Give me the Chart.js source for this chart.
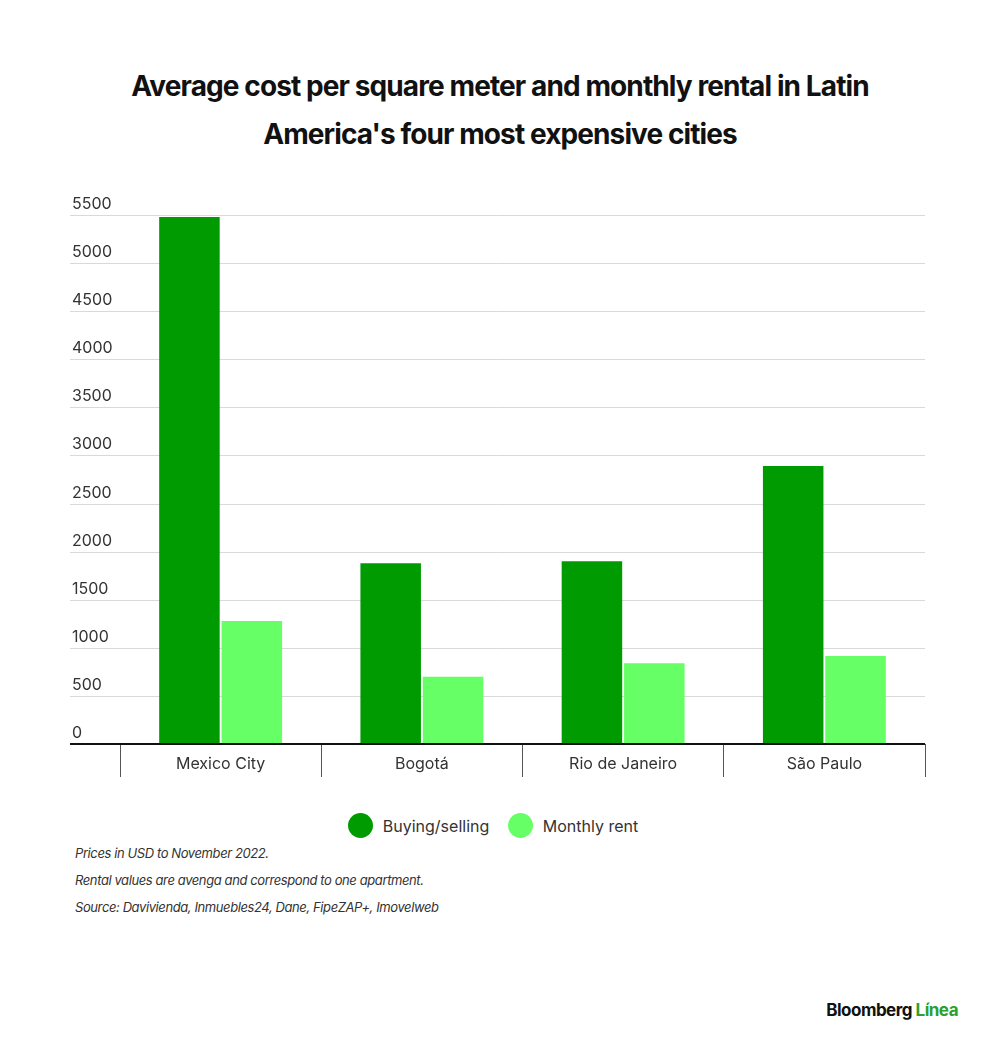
<!DOCTYPE html>
<html>
<head>
<meta charset="utf-8">
<script src="https://cdn.jsdelivr.net/npm/chart.js@4"></script>
<style>
  body { margin: 0; background: #fff; font-family: Inter, "Noto Sans", sans-serif; }
  #page { position: relative; width: 1000px; height: 1054px; }
  h1 { position: absolute; top: 62px; left: 0; width: 1000px; margin: 0; text-align: center;
       font-size: 28px; line-height: 48px; font-weight: 700; letter-spacing: -0.9px; color: #111; }
  #wrap { position: absolute; left: 0; top: 190px; width: 1000px; height: 600px; }
  #legend { position: absolute; top: 813px; left: 0; width: 1000px; text-align: center; font-size: 16px; color: #333; }
  #legend span.dot { display: inline-block; width: 25px; height: 25px; border-radius: 50%; vertical-align: middle; margin: 0 10px 0 0; }
  #legend span.lab { vertical-align: middle; margin-right: 14px; }
  .note { position: absolute; left: 75px; font-size: 13px; font-style: italic; color: #333; letter-spacing: -0.4px; }
  #logo { position: absolute; right: 42px; top: 1000px; font-size: 17px; font-weight: 700; color: #111; letter-spacing: -0.5px; }
  #logo em { font-style: normal; color: #2ca02c; }
</style>
</head>
<body>
<div id="page">
  <h1>Average cost per square meter and monthly rental in Latin<br>America's four most expensive cities</h1>
  <div id="wrap"><canvas id="chart"></canvas></div>
  <div id="legend">
    <span class="dot" style="background:#009b00"></span><span class="lab">Buying/selling</span>
    <span class="dot" style="background:#66ff66"></span><span class="lab">Monthly rent</span>
  </div>
  <div class="note" style="top:845px">Prices in USD to November 2022.</div>
  <div class="note" style="top:872px">Rental values are avenga and correspond to one apartment.</div>
  <div class="note" style="top:899px">Source: Davivienda, Inmuebles24, Dane, FipeZAP+, Imovelweb</div>
  <div id="logo">Bloomberg <em>Línea</em></div>
</div>
<script>
const cities = ['Mexico City', 'Bogotá', 'Rio de Janeiro', 'São Paulo'];
const buyingSelling = [5480, 1880, 1900, 2890];
const monthlyRent = [1280, 700, 840, 915];
const yTicks = [0, 500, 1000, 1500, 2000, 2500, 3000, 3500, 4000, 4500, 5000, 5500];

const leftEdge = 70;

// y labels sit just above each gridline, and gridlines + baseline run to the far left
const decor = {
    id: 'decor',
    beforeDatasetsDraw(chart) {
        const { ctx, chartArea, scales } = chart;
        ctx.save();
        ctx.strokeStyle = '#d9d9d9';
        ctx.lineWidth = 1;
        ctx.fillStyle = '#333';
        ctx.font = '16px Inter, "Noto Sans", sans-serif';
        ctx.textBaseline = 'bottom';
        yTicks.forEach(v => {
            const y = Math.round(scales.y.getPixelForValue(v)) + 0.5;
            if (v > 0) {
                ctx.beginPath();
                ctx.moveTo(leftEdge, y);
                ctx.lineTo(chartArea.right, y);
                ctx.stroke();
            }
            ctx.fillText(String(v), leftEdge + 2, y - 3);
        });
        ctx.restore();
    },
    afterDatasetsDraw(chart) {
        const { ctx, chartArea, scales } = chart;
        const y = scales.y.getPixelForValue(0);
        ctx.save();
        ctx.strokeStyle = '#111';
        ctx.lineWidth = 2;
        ctx.beginPath();
        ctx.moveTo(leftEdge, y);
        ctx.lineTo(chartArea.right, y);
        ctx.stroke();
        ctx.restore();
    }
};

new Chart(document.getElementById('chart'), {
    type: 'bar',
    data: {
        labels: cities,
        datasets: [
            { label: 'Buying/selling', data: buyingSelling, backgroundColor: '#009b00' },
            { label: 'Monthly rent', data: monthlyRent, backgroundColor: '#66ff66' }
        ]
    },
    options: {
        responsive: true,
        maintainAspectRatio: false,
        animation: false,
        layout: { padding: { top: 25, right: 75, left: 0, bottom: 0 } },
        datasets: { bar: { categoryPercentage: 0.62, barPercentage: 0.97 } },
        plugins: { legend: { display: false }, tooltip: { enabled: false } },
        scales: {
            x: {
                offset: true,
                border: { display: false },
                grid: { display: true, drawOnChartArea: false, offset: true, tickLength: 33, color: '#555', lineWidth: 1 },
                ticks: { color: '#333', font: { size: 16, family: 'Inter, "Noto Sans", sans-serif' }, padding: -22 },
                afterFit(s) { s.height = 46; }
            },
            y: {
                min: 0, max: 5500,
                border: { display: false },
                grid: { display: false },
                ticks: { display: false, stepSize: 500 },
                afterFit(s) { s.width = 120; }
            }
        }
    },
    plugins: [decor]
});
</script>
</body>
</html>
